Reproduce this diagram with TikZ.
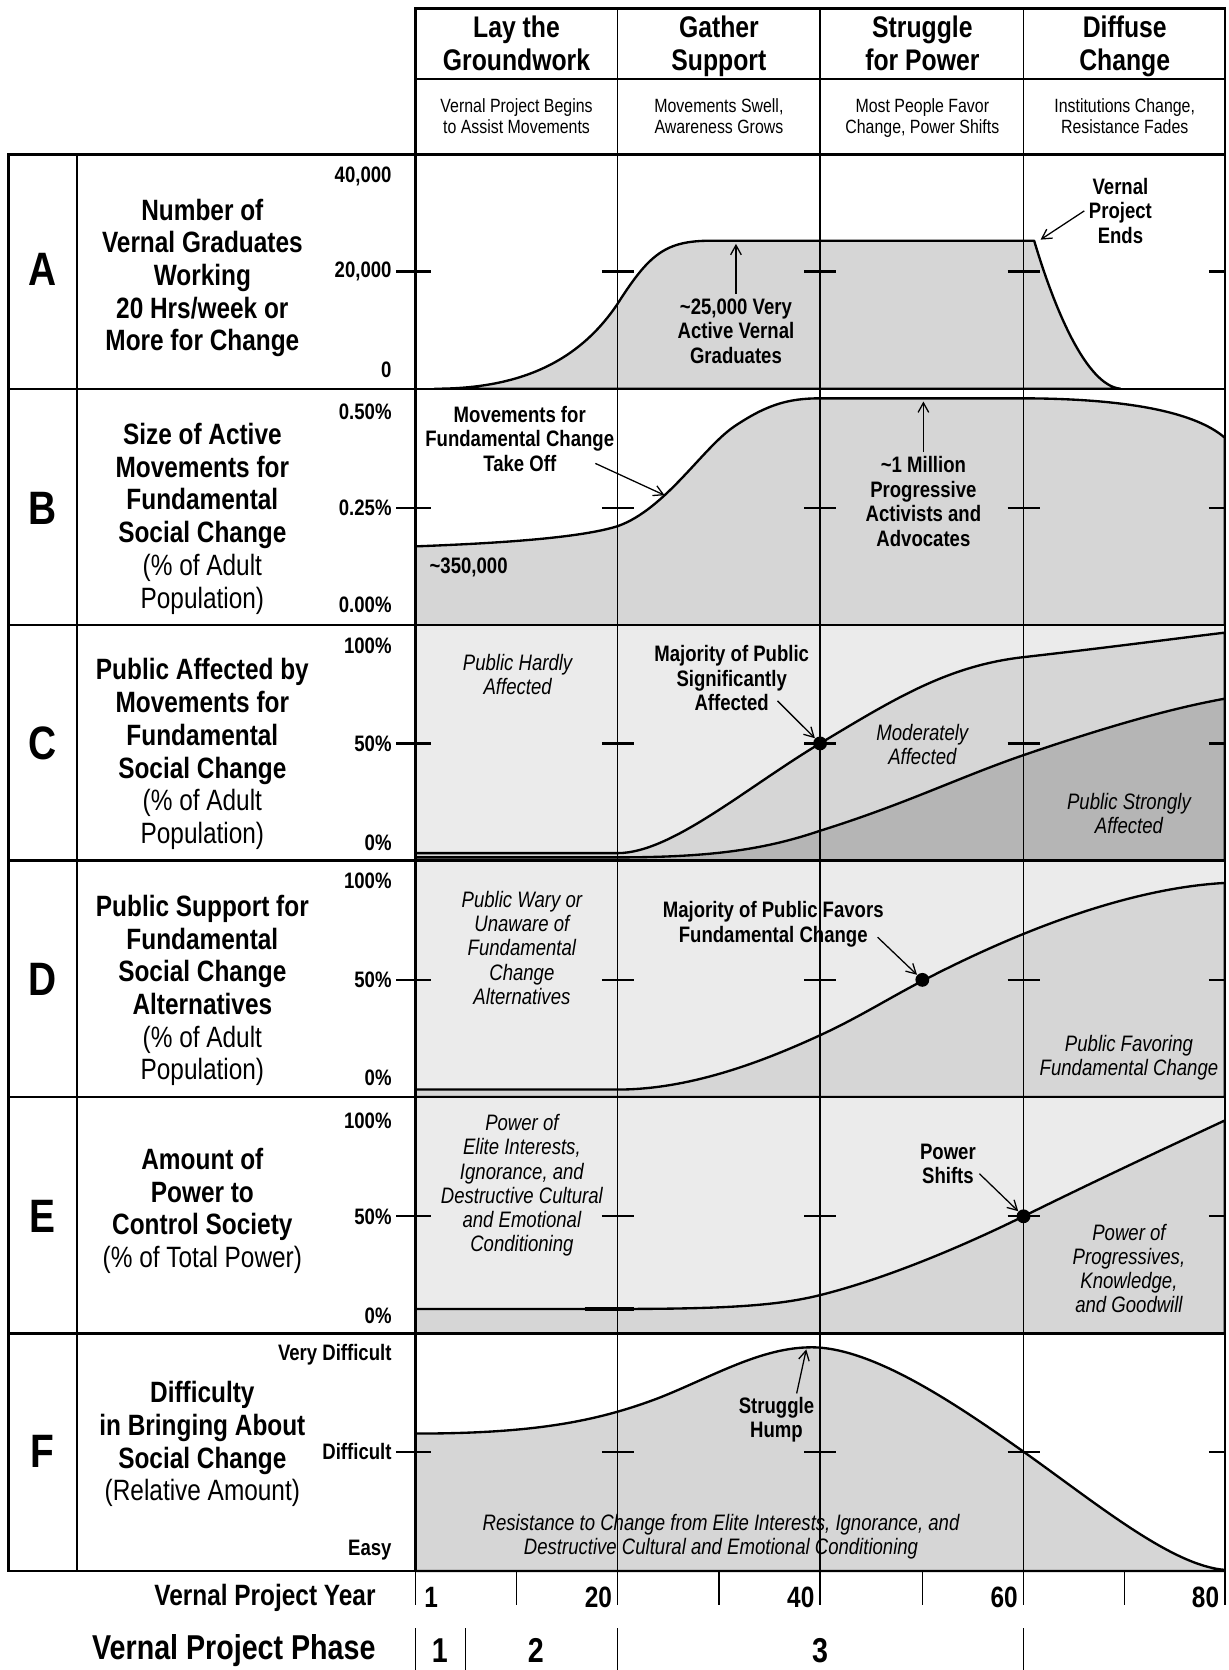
\documentclass[tikz,border=0pt]{standalone}
\usepackage{fontspec}
\setmainfont{Liberation Sans}[FakeStretch=0.83]
\usetikzlibrary{arrows.meta,calc}

\definecolor{paleband}{gray}{0.92}
\definecolor{midband}{gray}{0.84}
\definecolor{darkband}{gray}{0.71}

\begin{document}
\begin{tikzpicture}[
    x=0.5pt, y=-0.5pt,
    tblrule/.style={line width=1.1pt},
    gridline/.style={line width=0.7pt},
    midtick/.style={line width=1.1pt},
    trend/.style={line width=1.1pt, line join=round},
    phasettl/.style={font=\fontsize{14}{15.5}\selectfont\bfseries, align=center,
                     execute at end node=\strut},
    phasesub/.style={font=\fontsize{9}{10}\selectfont, align=center,
                     execute at end node=\strut},
    rowlbl/.style={font=\fontsize{13.8}{15.35}\selectfont\bfseries, align=center},
    rowletter/.style={font=\fontsize{22}{24}\selectfont\bfseries},
    axislbl/.style={font=\fontsize{10.5}{12}\selectfont\bfseries, anchor=east, inner sep=1pt},
    calltxt/.style={font=\fontsize{10.5}{11.5}\selectfont\bfseries, align=center, inner sep=2pt},
    zonetxt/.style={font=\fontsize{10.5}{11.4}\selectfont\itshape, align=center},
    foottxt/.style={font=\fontsize{13.8}{15}\selectfont\bfseries, inner sep=1pt},
    footbig/.style={font=\fontsize{16.2}{18}\selectfont\bfseries, inner sep=1pt},
    ptr/.style={-{Straight Barb[length=4.5pt,width=5pt]}, line width=0.6pt},
    hitdot/.style={circle, fill=black, inner sep=0pt, minimum size=6.5pt},
  ]
  \useasboundingbox (0,0) rectangle (1153,1568);

  % shaded areas of the six panels
  % A: graduates
  \filldraw[fill=midband, trend] (408,365) .. controls (480,365) and (540,345) .. (580,285)
    .. controls (610,238) and (625,226) .. (668,226) -- (971,226)
    .. controls (990,290) and (1020,362) .. (1052,365) -- cycle;
  % B: movements
  \filldraw[fill=midband, trend] (390,513) .. controls (470,510) and (545,505) .. (580,494)
    .. controls (625,478) and (660,420) .. (690,400)
    .. controls (720,380) and (740,374) .. (770,374) -- (958,374)
    .. controls (1050,374) and (1120,385) .. (1150,411) -- (1150,587) -- (390,587) -- cycle;
  % C: public affected
  \fill[paleband] (390,587) rectangle (1150,808);
  \filldraw[fill=midband, trend] (390,801) -- (580,801) .. controls (630,801) and (700,740) .. (770,698)
    .. controls (840,656) and (890,625) .. (961,617)
    .. controls (1040,608) and (1100,600) .. (1150,594) -- (1150,808) -- (390,808) -- cycle;
  \filldraw[fill=darkband, trend] (390,805) -- (580,805) .. controls (670,805) and (720,797) .. (770,780)
    .. controls (850,755) and (900,730) .. (961,709)
    .. controls (1040,682) and (1100,665) .. (1150,656) -- (1150,808) -- (390,808) -- cycle;
  % D: public support
  \fill[paleband] (390,808) rectangle (1150,1030);
  \filldraw[fill=midband, trend] (390,1023) -- (580,1023) .. controls (650,1023) and (720,995) .. (770,972)
    .. controls (805,956) and (835,937) .. (866,921)
    .. controls (920,893) and (1040,835) .. (1150,829) -- (1150,1030) -- (390,1030) -- cycle;
  % E: power
  \fill[paleband] (390,1030) rectangle (1150,1252);
  \filldraw[fill=midband, trend] (390,1229) -- (580,1229) .. controls (680,1229) and (730,1226) .. (770,1216)
    .. controls (830,1201) and (900,1172) .. (961,1142)
    .. controls (1030,1108) and (1090,1080) .. (1150,1052) -- (1150,1252) -- (390,1252) -- cycle;
  \draw[line width=1.8pt] (549,1229) -- (595,1229);
  % F: difficulty
  \filldraw[fill=midband, trend] (390,1346) .. controls (500,1346) and (560,1335) .. (620,1312)
    .. controls (670,1292) and (715,1265) .. (762,1265)
    .. controls (820,1265) and (900,1320) .. (961,1363)
    .. controls (1030,1412) and (1100,1470) .. (1150,1474) -- (1150,1475) -- (390,1475) -- cycle;

  % grid and frame
  \foreach \g in {580,770,961} \draw[gridline] (\g,8) -- (\g,1507);
  \draw[tblrule] (390,8) rectangle (1150,145);
  \draw[gridline] (390,74) -- (1150,74);
  \draw[tblrule] (8,145) rectangle (1150,1475);
  \draw[tblrule] (72,145) -- (72,1475);
  \draw[tblrule] (390,145) -- (390,1475);
  \foreach \b in {365,587,808,1030,1252} \draw[tblrule] (8,\b) -- (1150,\b);
  \foreach \m in {255,477,698,920,1142,1363} {
    \draw[midtick] (372,\m) -- (405,\m);
    \foreach \g in {580,770,961} \draw[midtick] (\g-15,\m) -- (\g+15,\m);
    \draw[midtick] (1135,\m) -- (1150,\m);
  }
  \foreach \g in {390,485,580,675,770,866,961,1056,1150} \draw[gridline] (\g,1475) -- (\g,1507);
  \foreach \g in {390,437,580,961} \draw[gridline] (\g,1529) -- (\g,1568);

  % phase headings
  \node[phasettl] (ttlLay) at (485,45) {Lay the\\Groundwork};
  \node[phasettl] (ttlGather) at (675,45) {Gather\\Support};
  \node[phasettl] (ttlStruggle) at (866,45) {Struggle\\for Power};
  \node[phasettl] (ttlDiffuse) at (1056,45) {Diffuse\\Change};
  \node[phasesub] (subLay) at (485,112) {Vernal Project Begins\\to Assist Movements};
  \node[phasesub] (subGather) at (675,112) {Movements Swell,\\Awareness Grows};
  \node[phasesub] (subStruggle) at (866,112) {Most People Favor\\Change, Power Shifts};
  \node[phasesub] (subDiffuse) at (1056,112) {Institutions Change,\\Resistance Fades};

  % row letters and row labels
  \node[rowletter] (letA) at (40,253) {A};
  \node[rowletter] (letB) at (40,477) {B};
  \node[rowletter] (letC) at (40,698) {C};
  \node[rowletter] (letD) at (40,920) {D};
  \node[rowletter] (letE) at (40,1142) {E};
  \node[rowletter] (letF) at (40,1363) {F};
  \node[rowlbl] (lblA) at (190,261) {Number of\\Vernal Graduates\\Working\\20 Hrs/week or\\More for Change};
  \node[rowlbl] (lblB) at (190,487) {Size of Active\\Movements for\\Fundamental\\Social Change\\{\mdseries(\% of Adult}\\{\mdseries Population)}};
  \node[rowlbl] (lblC) at (190,708) {Public Affected by\\Movements for\\Fundamental\\Social Change\\{\mdseries(\% of Adult}\\{\mdseries Population)}};
  \node[rowlbl] (lblD) at (190,930) {Public Support for\\Fundamental\\Social Change\\Alternatives\\{\mdseries(\% of Adult}\\{\mdseries Population)}};
  \node[rowlbl] (lblE) at (190,1137) {Amount of\\Power to\\Control Society\\{\mdseries(\% of Total Power)}};
  \node[rowlbl] (lblF) at (190,1356) {Difficulty\\in Bringing About\\Social Change\\{\mdseries(Relative Amount)}};

  % axis values
  \node[axislbl] (yA1) at (370,166) {40,000};
  \node[axislbl] (yA2) at (370,255) {20,000};
  \node[axislbl] (yA3) at (370,347) {0};
  \node[axislbl] (yB1) at (370,387) {0.50\%};
  \node[axislbl] (yB2) at (370,477) {0.25\%};
  \node[axislbl] (yB3) at (370,568) {0.00\%};
  \node[axislbl] (yC1) at (370,606) {100\%};
  \node[axislbl] (yC2) at (370,698) {50\%};
  \node[axislbl] (yC3) at (370,791) {0\%};
  \node[axislbl] (yD1) at (370,827) {100\%};
  \node[axislbl] (yD2) at (370,920) {50\%};
  \node[axislbl] (yD3) at (370,1012) {0\%};
  \node[axislbl] (yE1) at (370,1052) {100\%};
  \node[axislbl] (yE2) at (370,1142) {50\%};
  \node[axislbl] (yE3) at (370,1235) {0\%};
  \node[axislbl] (yF1) at (370,1272) {Very Difficult};
  \node[axislbl] (yF2) at (370,1363) {Difficult};
  \node[axislbl] (yF3) at (370,1455) {Easy};

  % panel A notes
  \node[calltxt] (gradTxt) at (691,311) {\textasciitilde 25,000 Very\\Active Vernal\\Graduates};
  \coordinate (gradTip) at (691,229);
  \draw[ptr] (gradTxt.north) -- (gradTip);
  \node[calltxt] (endsTxt) at (1052,198) {Vernal\\Project\\Ends};
  \coordinate (endsTip) at (977,225);
  \draw[ptr] (endsTxt.west) -- (endsTip);

  % panel B notes
  \node[calltxt] (takeoffTxt) at (488,412) {Movements for\\Fundamental Change\\Take Off};
  \coordinate (takeoffTip) at (624,465);
  \draw[ptr] ($(takeoffTxt.south east)+(-22,-12)$) -- (takeoffTip);
  \node[calltxt] (millionTxt) at (867,471) {\textasciitilde 1 Million\\Progressive\\Activists and\\Advocates};
  \coordinate (millionTip) at (867,377);
  \draw[ptr] (millionTxt.north) -- (millionTip);
  \node[calltxt] (baseTxt) at (440,533) {\textasciitilde 350,000};

  % panel C notes
  \node[zonetxt] (hardlyTxt) at (486,633) {Public Hardly\\Affected};
  \node[hitdot] (cDot) at (770,698) {};
  \node[calltxt] (signifTxt) at (687,637) {Majority of Public\\Significantly\\Affected};
  \draw[ptr] ($(signifTxt.south east)+(-34,-14)$) -- (cDot);
  \node[zonetxt] (moderTxt) at (866,699) {Moderately\\Affected};
  \node[zonetxt] (stronglyTxt) at (1060,764) {Public Strongly\\Affected};

  % panel D notes
  \node[zonetxt] (waryTxt) at (490,890) {Public Wary or\\Unaware of\\Fundamental\\Change\\Alternatives};
  \node[hitdot] (dDot) at (866,920) {};
  \node[calltxt] (favorTxt) at (726,868) {Majority of Public Favors\\Fundamental Change};
  \draw[ptr] ($(favorTxt.east)+(-10,12)$) -- (dDot);
  \node[zonetxt] (favoringTxt) at (1060,993) {Public Favoring\\Fundamental Change};

  % panel E notes
  \node[zonetxt] (eliteTxt) at (490,1113) {Power of\\Elite Interests,\\Ignorance, and\\Destructive Cultural\\and Emotional\\Conditioning};
  \node[hitdot] (eDot) at (961,1142) {};
  \node[calltxt] (shiftTxt) at (890,1093) {Power\\Shifts};
  \draw[ptr] ($(shiftTxt.east)+(-1,9)$) -- (eDot);
  \node[zonetxt] (progTxt) at (1060,1191) {Power of\\Progressives,\\Knowledge,\\and Goodwill};

  % panel F notes
  \node[calltxt] (humpTxt) at (729,1333) {Struggle\\Hump};
  \coordinate (humpTip) at (757,1267);
  \draw[ptr] ($(humpTxt.north)+(19,1)$) -- (humpTip);
  \node[zonetxt] (resistTxt) at (677,1443) {Resistance to Change from Elite Interests, Ignorance, and\\Destructive Cultural and Emotional Conditioning};

  % year and phase rows
  \node[foottxt, anchor=east] (yearLbl) at (355,1500) {Vernal Project Year};
  \node[foottxt, anchor=west] (yr1) at (396,1500) {1};
  \node[foottxt, anchor=east] (yr20) at (577,1500) {20};
  \node[foottxt, anchor=east] (yr40) at (767,1500) {40};
  \node[foottxt, anchor=east] (yr60) at (958,1500) {60};
  \node[foottxt, anchor=east] (yr80) at (1147,1500) {80};
  \node[footbig, anchor=east] (phaseLbl) at (355,1550) {Vernal Project Phase};
  \node[footbig] (ph1) at (413,1550) {1};
  \node[footbig] (ph2) at (503,1550) {2};
  \node[footbig] (ph3) at (770,1550) {3};
\end{tikzpicture}
\end{document}
